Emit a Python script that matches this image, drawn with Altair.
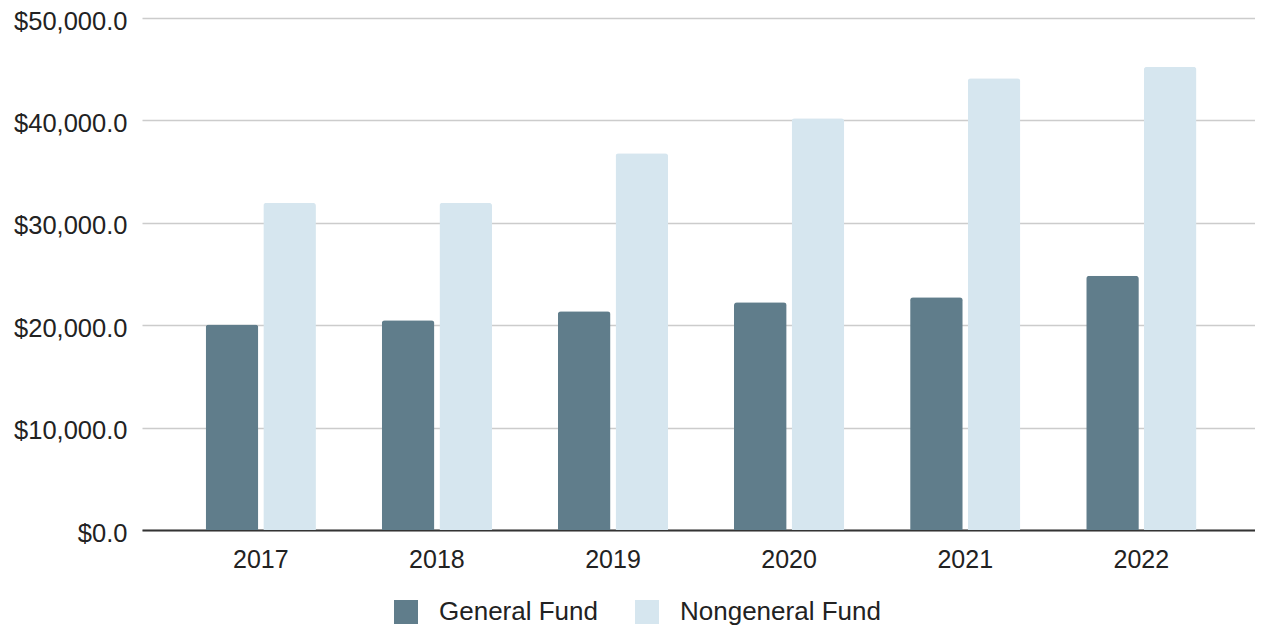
import altair as alt
import pandas as pd

years = ["2017", "2018", "2019", "2020", "2021", "2022"]
general_fund = [20070, 20490, 21370, 22250, 22730, 24820]
nongeneral_fund = [31960, 31960, 36780, 40200, 44110, 45250]
series_names = ["General Fund", "Nongeneral Fund"]
series_colors = ["#607d8b", "#d6e6ef"]

rows = []
for i, y in enumerate(years):
    rows.append({"year": y, "fund": series_names[0], "value": general_fund[i]})
    rows.append({"year": y, "fund": series_names[1], "value": nongeneral_fund[i]})
df = pd.DataFrame(rows)

FONT = "Liberation Sans, Arial, Helvetica, sans-serif"

chart = alt.Chart(df).mark_bar(
    cornerRadiusTopLeft=3, cornerRadiusTopRight=3
).encode(
    x=alt.X("year:N", sort=years, title=None,
            scale=alt.Scale(paddingInner=0.374, paddingOuter=0.347, align=0.521),
            axis=alt.Axis(labelAngle=0, ticks=False, labelPadding=17,
                          labelFontSize=25, labelColor="#222222",
                          labelFont=FONT, domain=True, domainColor="#333333",
                          domainWidth=2, grid=False)),
    xOffset=alt.XOffset("fund:N", sort=series_names,
                        scale=alt.Scale(paddingInner=0.087, paddingOuter=0)),
    y=alt.Y("value:Q", title=None,
            scale=alt.Scale(domain=[0, 50000], nice=False),
            axis=alt.Axis(values=[0, 10000, 20000, 30000, 40000, 50000],
                          format="$,.1f", ticks=False, labelPadding=15,
                          labelOffset=3,
                          labelFontSize=25.5, labelColor="#222222",
                          labelFont=FONT, domain=False, grid=True,
                          gridColor="#cccccc", gridWidth=1.5)),
    color=alt.Color("fund:N", sort=series_names,
                    scale=alt.Scale(domain=series_names, range=series_colors),
                    legend=alt.Legend(title=None, orient="none",
                                      direction="horizontal",
                                      legendX=251, legendY=581,
                                      symbolType="square", symbolSize=576,
                                      symbolStrokeWidth=0,
                                      labelFontSize=26, labelFont=FONT,
                                      labelColor="#222222", labelOffset=20,
                                      labelLimit=0,
                                      columnPadding=36, padding=0)),
).properties(
    width=1113,
    height=512,
    autosize=alt.AutoSizeParams(type="none"),
    padding={"left": 134, "top": 10, "right": 0, "bottom": 95},
).configure(
    background="white"
).configure_view(
    stroke=None
)

chart.save("out.html", embed_options={"renderer": "svg", "actions": False})
